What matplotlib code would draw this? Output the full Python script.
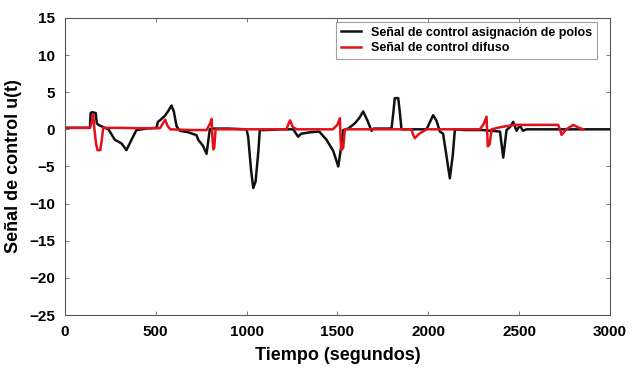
import matplotlib
matplotlib.use("Agg")
from matplotlib import pyplot as plt

plt.rcParams['font.family'] = ['Liberation Sans', 'DejaVu Sans']

# senal de control por asignacion de polos (negro)
t_polos = [0, 138, 142, 150, 170, 176, 185, 211, 240, 275, 312, 339, 367, 394, 450, 505,
           512, 523, 550, 570, 587, 600, 615, 633, 680, 725, 734, 760, 780, 798, 820,
           900, 1000, 1009, 1025, 1037, 1050, 1065, 1073, 1100, 1200, 1257, 1284, 1300,
           1349, 1400, 1440, 1477, 1505, 1520, 1532, 1560, 1596, 1620, 1642, 1665, 1688,
           1700, 1750, 1798, 1807, 1816, 1835, 1845, 1853, 1900, 1991, 2010, 2027, 2045,
           2064, 2082, 2100, 2119, 2135, 2147, 2200, 2300, 2395, 2413, 2431, 2450, 2468,
           2486, 2504, 2522, 2541, 2700, 3000]
u_polos = [0.2, 0.2, 2.2, 2.3, 2.2, 0.8, 0.6, 0.3, 0.0, -1.4, -1.9, -2.8, -1.4, -0.1, 0.1, 0.2,
           1.0, 1.2, 1.8, 2.5, 3.2, 2.4, 0.4, -0.2, -0.4, -0.8, -1.4, -2.2, -3.3, 0.0, 0.1,
           0.1, 0.0, -1.0, -5.5, -7.9, -7.0, -3.0, -0.1, -0.1, 0.0, 0.0, -1.0, -0.6,
           -0.4, -0.3, -1.4, -2.9, -5.0, -2.5, -0.1, 0.1, 0.8, 1.5, 2.4, 1.2, -0.2,
           0.1, 0.1, 0.1, 2.0, 4.2, 4.2, 2.0, 0.0, 0.0, 0.0, 1.0, 1.9, 1.2,
           -0.3, -0.6, -3.5, -6.6, -3.5, 0.0, -0.1, -0.1, -0.3, -3.8, -0.1, 0.3, 1.0,
           -0.2, 0.5, -0.2, 0.0, 0.0, 0.0]

# senal de control difuso (rojo)
t_difuso = [0, 138, 148, 156, 162, 172, 180, 195, 203, 211, 300, 400, 523, 540, 552, 565, 580,
            700, 780, 800, 808, 812, 817, 822, 830, 900, 1100, 1220, 1232, 1240, 1255, 1277,
            1400, 1475, 1500, 1514, 1518, 1522, 1532, 1541, 1700, 1908, 1915, 1926, 1950,
            1991, 2100, 2284, 2305, 2321, 2325, 2328, 2338, 2349, 2400, 2477, 2600, 2715,
            2725, 2734, 2760, 2798, 2830, 2853]
u_difuso = [0.2, 0.2, 1.0, 2.0, 0.2, -2.0, -2.8, -2.8, -1.5, 0.2, 0.2, 0.15, 0.15, 0.8, 1.3, 0.5, 0.0,
            -0.1, -0.1, 0.8, 1.4, -1.0, -2.7, -2.5, 0.0, 0.0, 0.0, 0.0, 0.8, 1.2, 0.3, 0.0,
            0.0, 0.0, 0.6, 1.5, -1.5, -2.8, -2.5, 0.0, 0.0, 0.0, -0.6, -1.2, -0.6,
            0.0, 0.0, 0.0, 0.7, 1.7, -0.5, -2.3, -2.0, 0.0, 0.3, 0.6, 0.6, 0.6,
            0.0, -0.75, 0.0, 0.6, 0.2, 0.0]

x_ticks = [0, 500, 1000, 1500, 2000, 2500, 3000]
y_ticks = [-25, -20, -15, -10, -5, 0, 5, 10, 15]

fig = plt.figure(figsize=(6.42, 3.72), dpi=100)
ax = fig.add_axes([0.101, 0.153, 0.849, 0.799])

ax.plot(t_polos, u_polos, color='#111111', lw=1.8, label='Señal de control asignación de polos')
ax.plot(t_difuso, u_difuso, color='#e3101a', lw=1.8, label='Señal de control difuso')

ax.set_xlim(0, 3000)
ax.set_ylim(-25, 15)
ax.set_xticks(x_ticks)
ax.set_yticks(y_ticks)
ax.tick_params(direction='in', top=True, right=True, length=3, width=0.6,
               color='#666666', labelsize=11, pad=7)
for lab in ax.get_xticklabels() + ax.get_yticklabels():
    lab.set_fontweight('bold')
for s in ax.spines.values():
    s.set_color('#555555')
    s.set_linewidth(0.8)

ax.set_xlabel('Tiempo (segundos)', fontsize=13, fontweight='bold', labelpad=6)
ax.set_ylabel('Señal de control u(t)', fontsize=13, fontweight='bold', labelpad=5)

leg = ax.legend(loc='upper right', bbox_to_anchor=(0.976, 0.987), borderaxespad=0,
                fancybox=False, edgecolor='#888888', prop={'weight': 'bold', 'size': 9},
                handlelength=1.6, labelspacing=0.3)
leg.get_frame().set_linewidth(0.8)

fig.savefig('out.png', dpi=100)
